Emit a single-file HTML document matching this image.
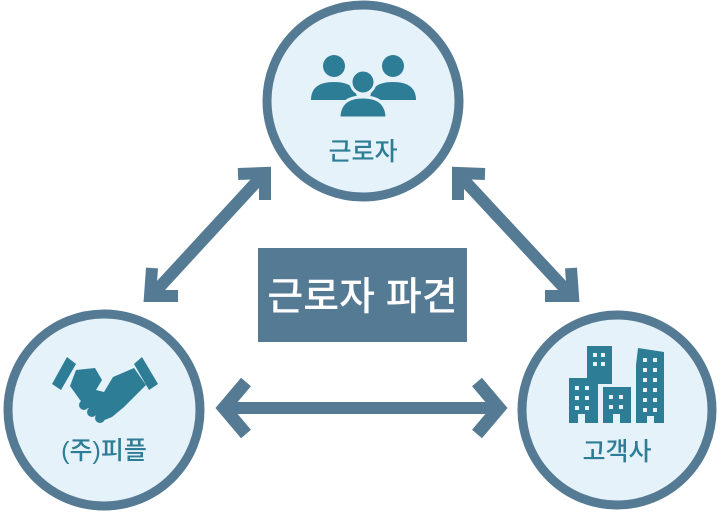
<!DOCTYPE html>
<html><head><meta charset="utf-8"><style>
body{margin:0;background:#fff;width:722px;height:514px;overflow:hidden}
svg{display:block}
text{font-family:"Liberation Sans","Noto Sans CJK KR",sans-serif}
</style></head><body>
<svg width="722" height="514" viewBox="0 0 722 514">
<g fill="#e6f2f9" stroke="#557a94" stroke-width="9">
<circle cx="363" cy="101" r="96"/>
<circle cx="104" cy="410" r="96"/>
<circle cx="617" cy="410" r="95"/>
</g>
<g stroke="#557a94" stroke-width="12" fill="none" stroke-linejoin="miter" stroke-linecap="butt">
<line x1="155" y1="292" x2="260" y2="178"/>
<polyline points="152,268 150,296 178,296"/>
<polyline points="238,174 265,173 265,200"/>
<line x1="462" y1="178" x2="568" y2="292"/>
<polyline points="458,200 458,173 485,174"/>
<polyline points="545,296 573,296 571,268"/>
<line x1="225" y1="408" x2="498" y2="408"/>
<polyline points="246,382 224,408 246,434" stroke-width="13"/>
<polyline points="477,382 499,408 477,434" stroke-width="13"/>
</g>
<rect x="258" y="248" width="209" height="94" fill="#557a94"/>
<text x="362.5" y="310" font-size="39" fill="#fff" text-anchor="middle" font-weight="500">근로자 파견</text>
<g fill="#2e7d96">
<circle cx="334" cy="66" r="11"/>
<path d="M311 100 q0-18 23-18 q23 0 23 18 z"/>
<circle cx="393" cy="66" r="11"/>
<path d="M370 100 q0-18 23-18 q23 0 23 18 z"/>
<circle cx="363" cy="82" r="12" stroke="#e6f2f9" stroke-width="3"/>
<path d="M339 118 q0-21 24-21 q24 0 24 21 z" stroke="#e6f2f9" stroke-width="3"/>
</g>
<text x="363" y="160" font-size="25" fill="#2e7d96" text-anchor="middle" font-weight="500">근로자</text>
<g fill="#2e7d96">
<polygon points="67,357 52,384 61,390 76,364"/>
<polygon points="142,357 158,384 149,390 134,364"/>
<path d="M76,370 L95,368 L102,380 L96,390 L104,392 L113,377 L134,368 L146,385 L124,407 L112,417 L102,421 L80,400 L70,386 Z"/>
<circle cx="84" cy="405" r="5"/><circle cx="92" cy="412" r="5"/><circle cx="100" cy="418" r="5"/>
</g>
<text x="104" y="459" font-size="25" fill="#2e7d96" text-anchor="middle" font-weight="500">(주)피플</text>
<g fill="#2e7d96">
<rect x="587" y="346" width="25" height="38"/>
<rect x="569" y="378" width="29" height="45"/>
<rect x="603" y="387" width="28" height="36"/>
<polygon points="636,365 638,348 664,352 664,423 636,423"/>
</g>
<g fill="#e6f2f9">
<rect x="593" y="353" width="4" height="4"/><rect x="601" y="353" width="4" height="4"/>
<rect x="593" y="362" width="4" height="4"/><rect x="601" y="362" width="4" height="4"/>
<rect x="575" y="386" width="4" height="4"/><rect x="585" y="386" width="4" height="4"/>
<rect x="575" y="396" width="4" height="4"/><rect x="585" y="396" width="4" height="4"/>
<rect x="575" y="406" width="4" height="4"/><rect x="585" y="406" width="4" height="4"/>
<rect x="609" y="395" width="4" height="4"/><rect x="619" y="395" width="4" height="4"/>
<rect x="609" y="405" width="4" height="4"/><rect x="619" y="405" width="4" height="4"/>
<rect x="643" y="358" width="4" height="4"/><rect x="653" y="358" width="4" height="4"/>
<rect x="643" y="368" width="4" height="4"/><rect x="653" y="368" width="4" height="4"/>
<rect x="643" y="378" width="4" height="4"/><rect x="653" y="378" width="4" height="4"/>
<rect x="643" y="388" width="4" height="4"/><rect x="653" y="388" width="4" height="4"/>
<rect x="643" y="398" width="4" height="4"/><rect x="653" y="398" width="4" height="4"/>
<rect x="643" y="408" width="4" height="4"/><rect x="653" y="408" width="4" height="4"/>
<rect x="578" y="414" width="7" height="9"/><rect x="613" y="414" width="7" height="9"/><rect x="647" y="416" width="7" height="7"/>
</g>
<text x="617" y="460" font-size="25" fill="#2e7d96" text-anchor="middle" font-weight="500">고객사</text>
</svg>
</body></html>
